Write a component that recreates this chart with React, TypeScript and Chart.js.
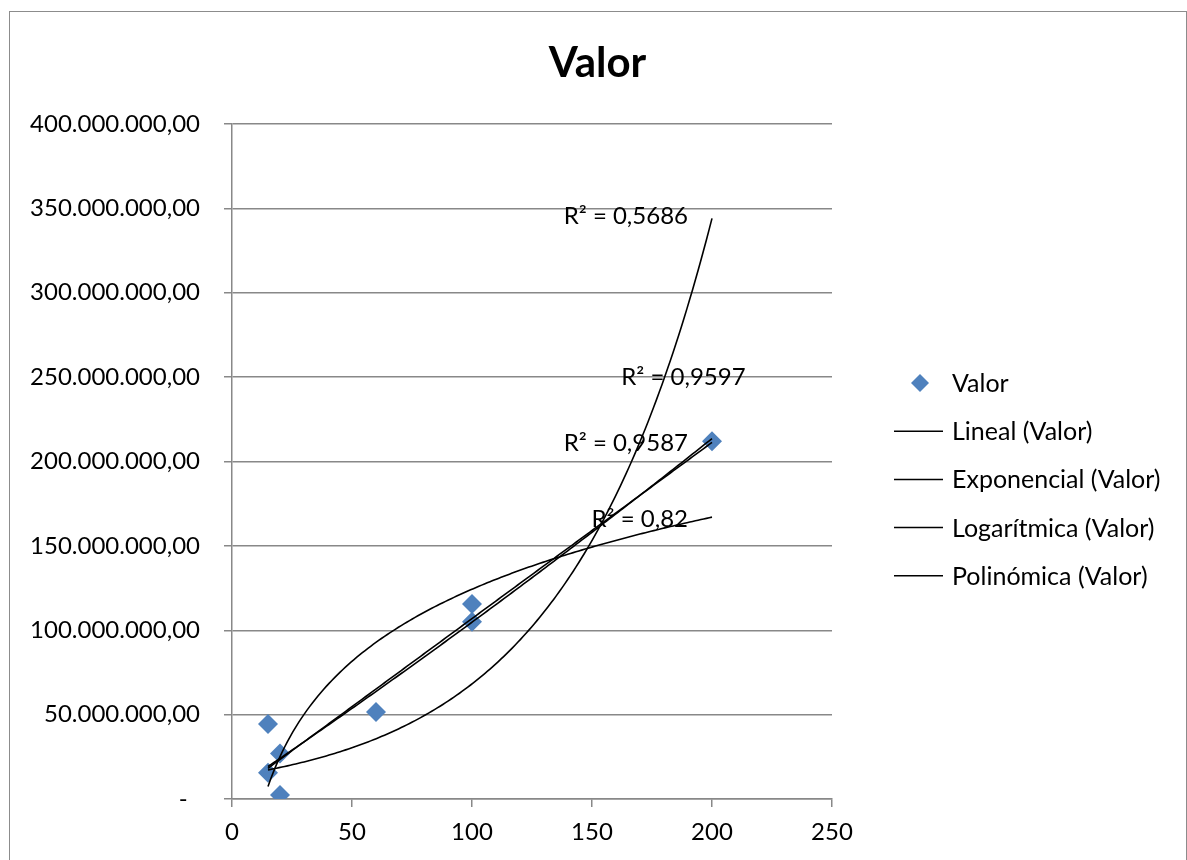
import React, { useEffect, useRef } from 'react';
import { Chart, registerables } from 'chart.js';

Chart.register(...registerables);

// ---- Data ----
const xValues = [15, 20, 15, 20, 60, 100, 100, 200];
const yValues = [44500000, 27000000, 15500000, 2400000, 51600000, 115500000, 105000000, 212000000];
const seriesName = 'Valor';
const chartTitle = 'Valor';
const trendNames = ['Lineal (Valor)', 'Exponencial (Valor)', 'Logarítmica (Valor)', 'Polinómica (Valor)'];
const r2Texts = ['R² = 0,9587', 'R² = 0,5686', 'R² = 0,82', 'R² = 0,9597'];
const r2LabelX = [190, 190, 190, 214];
const r2LabelY = [211000000, 345500000, 165500000, 250000000];
const xMin = 0;
const xMax = 250;
const xStep = 50;
const yMin = 0;
const yMax = 400000000;
const yStep = 50000000;

// ---- Least-squares trend fits (as Excel computes them) ----
function fitLinear(xs: number[], ys: number[]) {
  const n = xs.length;
  const mx = xs.reduce((a, b) => a + b, 0) / n;
  const my = ys.reduce((a, b) => a + b, 0) / n;
  let sxx = 0, sxy = 0;
  for (let i = 0; i < n; i++) {
    sxx += (xs[i] - mx) * (xs[i] - mx);
    sxy += (xs[i] - mx) * (ys[i] - my);
  }
  const b = sxy / sxx;
  const a = my - b * mx;
  return (x: number) => a + b * x;
}
function fitExp(xs: number[], ys: number[]) {
  const f = fitLinear(xs, ys.map(Math.log));
  return (x: number) => Math.exp(f(x));
}
function fitLog(xs: number[], ys: number[]) {
  const f = fitLinear(xs.map(Math.log), ys);
  return (x: number) => f(Math.log(x));
}
function det3(m: number[][]) {
  return (
    m[0][0] * (m[1][1] * m[2][2] - m[1][2] * m[2][1]) -
    m[0][1] * (m[1][0] * m[2][2] - m[1][2] * m[2][0]) +
    m[0][2] * (m[1][0] * m[2][1] - m[1][1] * m[2][0])
  );
}
function fitPoly2(xs: number[], ys: number[]) {
  const S = [0, 0, 0, 0, 0];
  const T = [0, 0, 0];
  for (let i = 0; i < xs.length; i++) {
    for (let k = 0; k < 5; k++) S[k] += Math.pow(xs[i], k);
    for (let k = 0; k < 3; k++) T[k] += ys[i] * Math.pow(xs[i], k);
  }
  const M = [
    [S[0], S[1], S[2]],
    [S[1], S[2], S[3]],
    [S[2], S[3], S[4]],
  ];
  const D = det3(M);
  const coef = [0, 1, 2].map((c) => {
    const Mc = M.map((row, r) => row.map((v, j) => (j === c ? T[r] : v)));
    return det3(Mc) / D;
  });
  return (x: number) => coef[0] + coef[1] * x + coef[2] * x * x;
}

function sampleFit(f: (x: number) => number) {
  const lo = Math.min(...xValues);
  const hi = Math.max(...xValues);
  const steps = 160;
  const pts: { x: number; y: number }[] = [];
  for (let i = 0; i <= steps; i++) {
    const x = lo + ((hi - lo) * i) / steps;
    pts.push({ x, y: f(x) });
  }
  return pts;
}

function formatY(v: number) {
  if (v === 0) return '-  ';
  const s = Math.round(v).toString().replace(/\B(?=(\d{3})+(?!\d))/g, '.');
  return s + ',00';
}

const FONT = 'Lato, "Liberation Sans", sans-serif';
const GRID = '#888888';

export default function App() {
  const ref = useRef<HTMLCanvasElement | null>(null);

  useEffect(() => {
    if (!ref.current) return;
    const fits = [
      fitLinear(xValues, yValues),
      fitExp(xValues, yValues),
      fitLog(xValues, yValues),
      fitPoly2(xValues, yValues),
    ];

    const framePlugin = {
      id: 'frame',
      beforeDraw(chart: any) {
        const ctx = chart.ctx;
        ctx.save();
        ctx.fillStyle = '#ffffff';
        ctx.fillRect(0, 0, chart.width, chart.height);
        ctx.strokeStyle = '#8c8c8c';
        ctx.lineWidth = 1;
        ctx.strokeRect(9.5, 11.5, 1177, 900);
        ctx.restore();
      },
      afterDraw(chart: any) {
        const ctx = chart.ctx;
        ctx.save();
        // title centred over the whole chart object
        ctx.fillStyle = '#000';
        ctx.font = `bold 42px ${FONT}`;
        ctx.textAlign = 'center';
        ctx.textBaseline = 'middle';
        ctx.fillText(chartTitle, 597.5, 63);

        // legend
        ctx.font = `25px ${FONT}`;
        ctx.textAlign = 'left';
        const items = [{ label: seriesName, kind: 'point' }].concat(
          trendNames.map((t) => ({ label: t, kind: 'line' }))
        );
        items.forEach((it, i) => {
          const y = 383 + i * 48.2;
          if (it.kind === 'point') {
            ctx.fillStyle = '#4F81BD';
            ctx.beginPath();
            ctx.moveTo(920 - 9, y);
            ctx.lineTo(920, y - 9);
            ctx.lineTo(920 + 9, y);
            ctx.lineTo(920, y + 9);
            ctx.closePath();
            ctx.fill();
          } else {
            ctx.strokeStyle = '#000';
            ctx.lineWidth = 1.5;
            ctx.beginPath();
            ctx.moveTo(894, y);
            ctx.lineTo(943, y);
            ctx.stroke();
          }
          ctx.fillStyle = '#000';
          ctx.fillText(it.label, 952, y + 1);
        });
        ctx.restore();
      },
      afterDatasetsDraw(chart: any) {
        const ctx = chart.ctx;
        const xs = chart.scales.x;
        const ys = chart.scales.y;
        ctx.save();
        ctx.font = `24px ${FONT}`;
        ctx.fillStyle = '#000';
        ctx.textAlign = 'right';
        ctx.textBaseline = 'middle';
        r2Texts.forEach((t, i) => {
          ctx.fillText(t, xs.getPixelForValue(r2LabelX[i]), ys.getPixelForValue(r2LabelY[i]));
        });
        ctx.restore();
      },
    };

    const chart = new Chart(ref.current, {
      type: 'scatter',
      data: {
        datasets: [
          {
            label: seriesName,
            data: xValues.map((x, i) => ({ x, y: yValues[i] })),
            pointStyle: 'rectRot',
            pointRadius: 10,
            pointHoverRadius: 10,
            backgroundColor: '#4F81BD',
            borderColor: '#4F81BD',
            borderWidth: 0,
            order: 1,
          } as any,
          ...fits.map((f, i) => ({
            label: trendNames[i],
            data: sampleFit(f),
            showLine: true,
            pointRadius: 0,
            borderColor: '#000000',
            borderWidth: 1.6,
            fill: false,
            tension: 0,
            order: 0,
          })),
        ],
      },
      options: {
        responsive: false,
        animation: false,
        events: [],
        layout: { padding: { top: 124, left: 0, right: 355, bottom: 0 } },
        plugins: {
          legend: { display: false },
          title: { display: false },
          tooltip: { enabled: false },
        },
        scales: {
          x: {
            type: 'linear',
            min: xMin,
            max: xMax,
            afterFit: (s: any) => {
              s.height = 61;
            },
            ticks: {
              stepSize: xStep,
              color: '#000',
              font: { family: FONT, size: 24 },
              padding: 11,
              maxRotation: 0,
            },
            grid: {
              drawOnChartArea: false,
              drawTicks: true,
              tickLength: 8,
              color: GRID,
              lineWidth: 1.5,
            },
            border: { display: true, color: GRID, width: 1.5 },
          },
          y: {
            type: 'linear',
            min: yMin,
            max: yMax,
            afterFit: (s: any) => {
              s.width = 232;
            },
            ticks: {
              stepSize: yStep,
              color: '#000',
              font: { family: FONT, size: 24 },
              padding: 24,
              callback: (v: any) => formatY(Number(v)),
            },
            grid: {
              drawOnChartArea: true,
              drawTicks: true,
              tickLength: 8,
              color: GRID,
              lineWidth: 1.5,
            },
            border: { display: true, color: GRID, width: 1.5 },
          },
        },
      },
      plugins: [framePlugin],
    } as any);

    return () => chart.destroy();
  }, []);

  return (
    <div style={{ position: 'fixed', left: 0, top: 0, width: 1187, height: 860 }}>
      <canvas ref={ref} width={1187} height={860} style={{ display: 'block' }} />
    </div>
  );
}
